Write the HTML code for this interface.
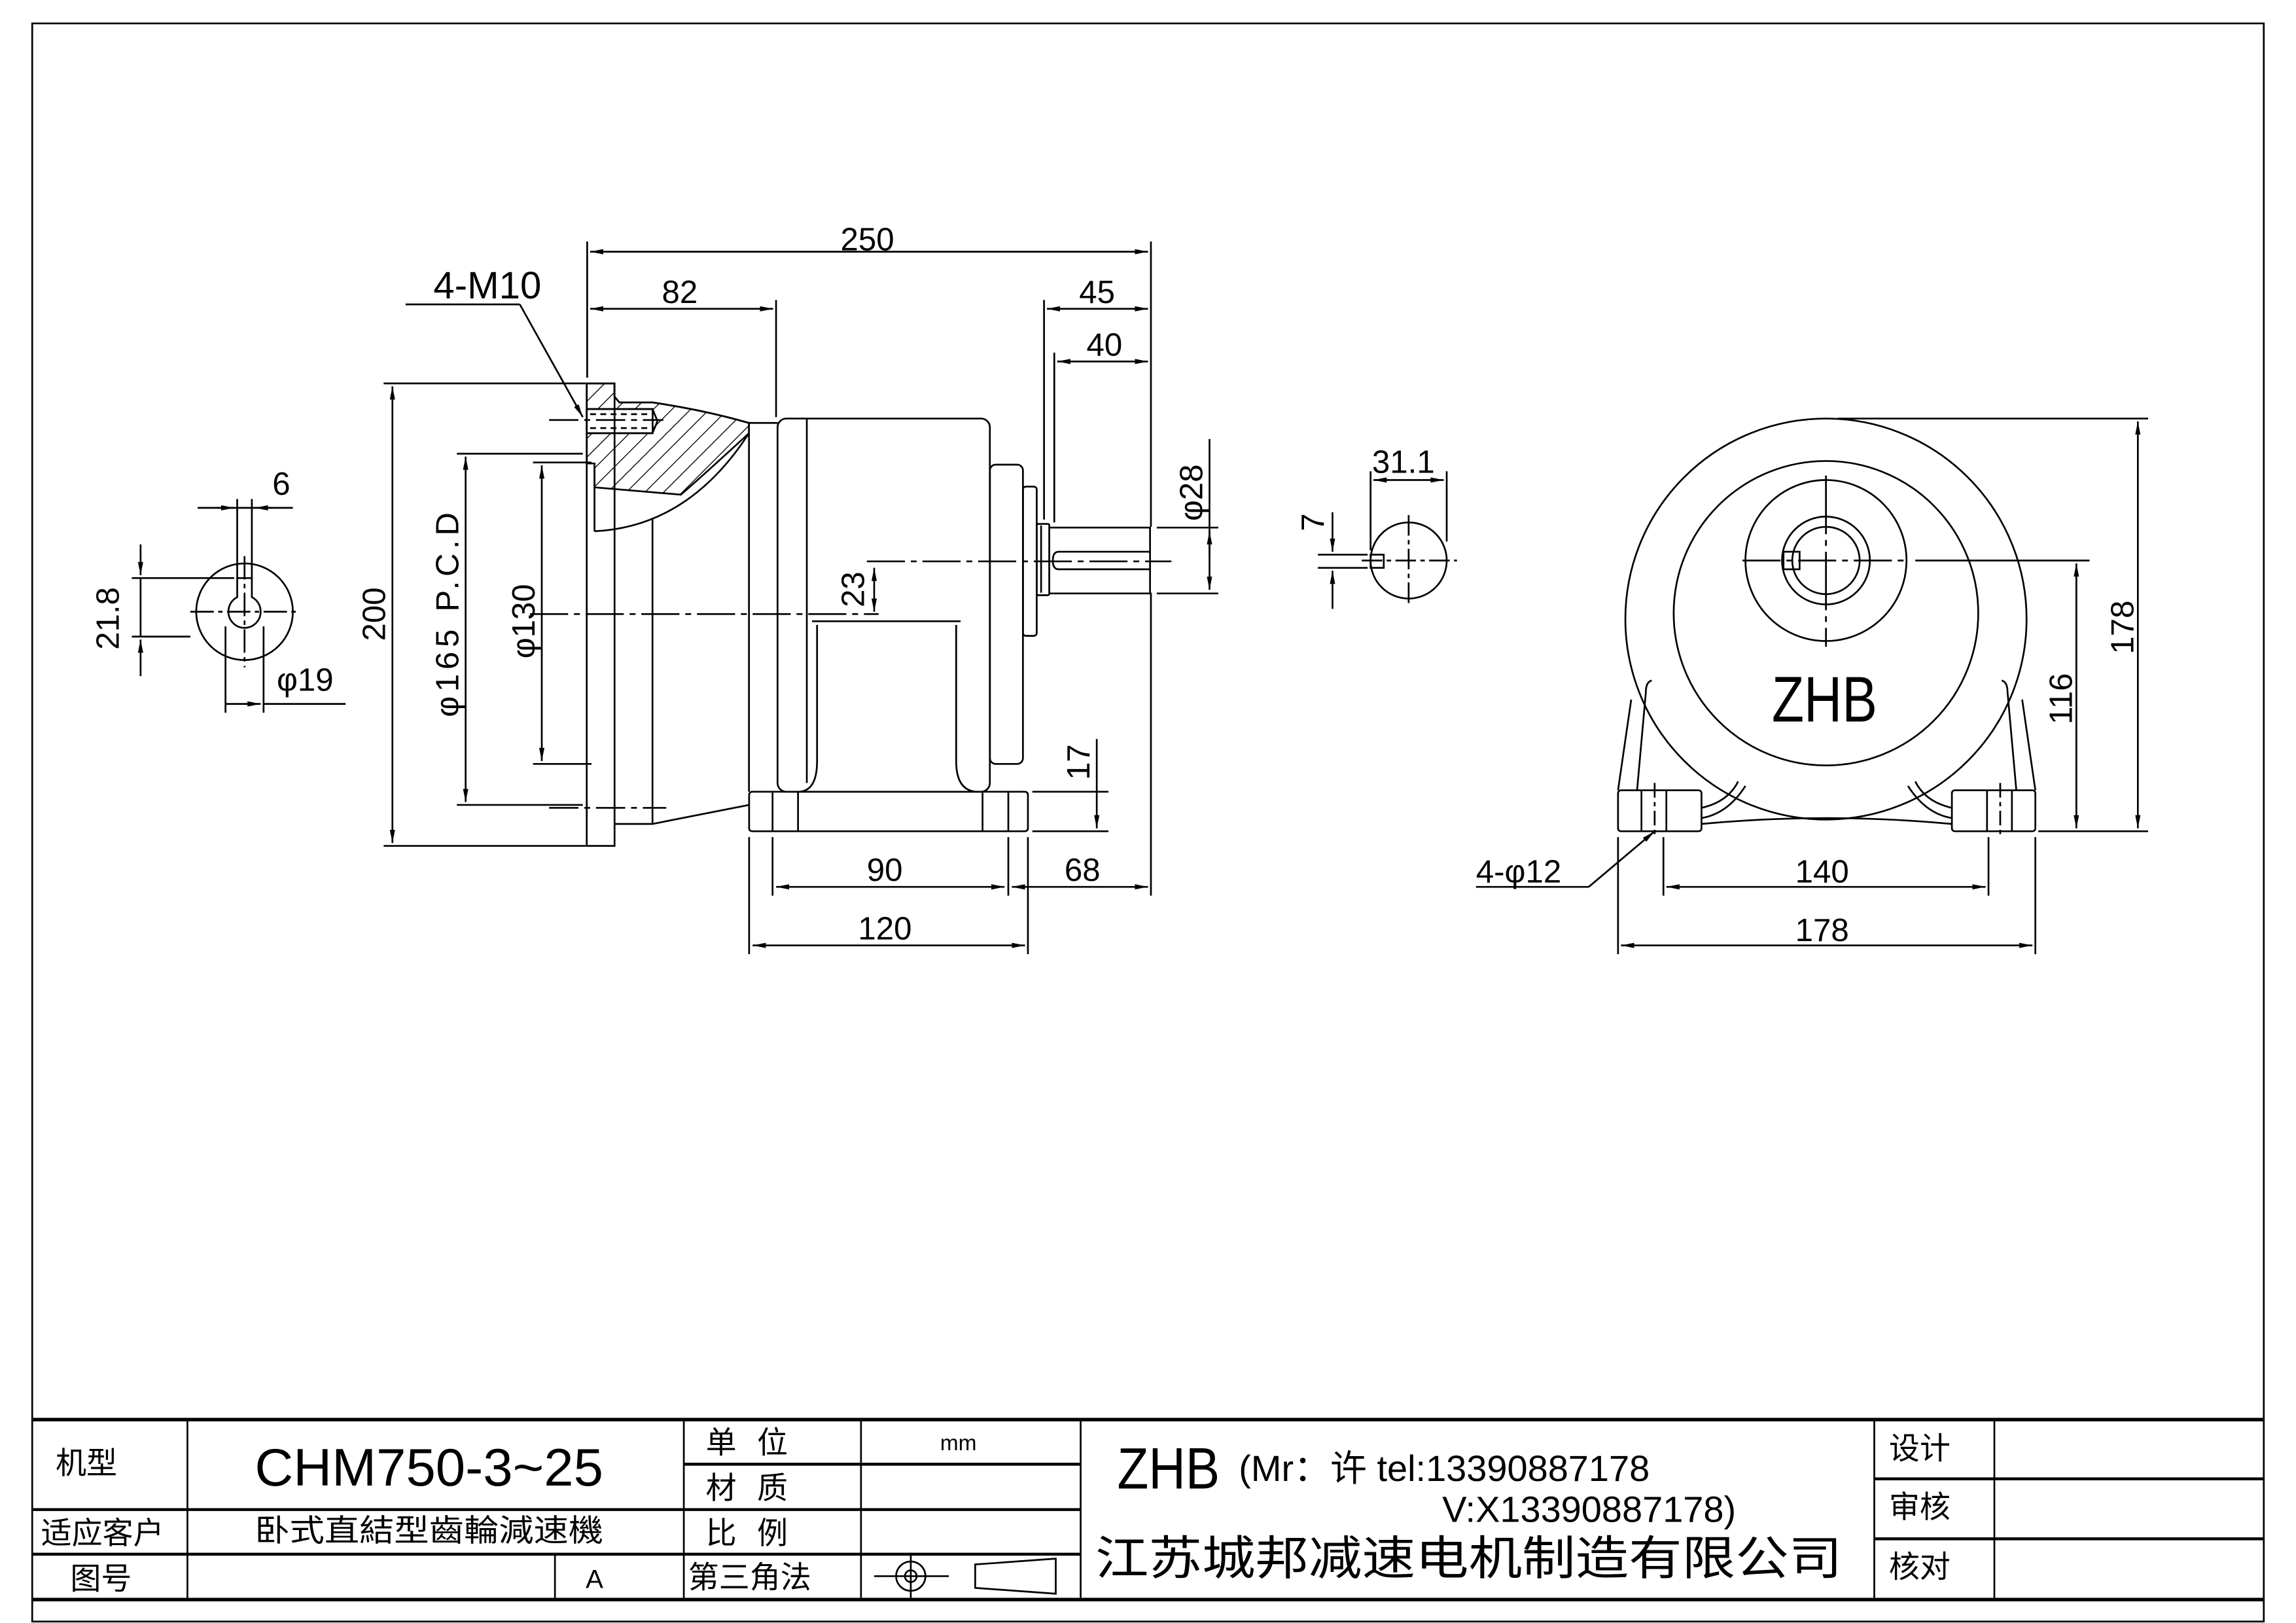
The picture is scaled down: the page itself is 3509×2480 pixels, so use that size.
<!DOCTYPE html>
<html><head><meta charset="utf-8"><style>
html,body{margin:0;padding:0;background:#fff}
svg{display:block}
text{font-family:"Liberation Sans","Noto Sans CJK SC",sans-serif;fill:#000}
</style></head><body>
<svg width="3509" height="2480" viewBox="0 0 1568 1109" preserveAspectRatio="none" xmlns="http://www.w3.org/2000/svg">
<defs>
<marker id="a" viewBox="0 0 10 10" refX="10" refY="5" markerWidth="9" markerHeight="9" orient="auto-start-reverse" markerUnits="userSpaceOnUse"><path d="M0,3 L10,5 L0,7 z" fill="#000"/></marker>
<pattern id="h" width="9" height="9" patternUnits="userSpaceOnUse" patternTransform="rotate(45)"><line x1="0" y1="0" x2="0" y2="9" stroke="#000" stroke-width="1.2"/></pattern>
</defs>
<g fill="none" stroke="#000" stroke-width="1.2">
<rect x="22" y="16" width="1524" height="1092" stroke-width="1.2"/>
<line x1="22" y1="970" x2="1546" y2="970" stroke-width="2.4"/>
<line x1="22" y1="1093" x2="1546" y2="1093" stroke-width="2.4"/>
<line x1="128" y1="970" x2="128" y2="1093"/>
<line x1="467" y1="970" x2="467" y2="1093"/>
<line x1="588" y1="970" x2="588" y2="1093"/>
<line x1="738" y1="970" x2="738" y2="1093"/>
<line x1="1280" y1="970" x2="1280" y2="1093"/>
<line x1="1362" y1="970" x2="1362" y2="1093"/>
<line x1="379" y1="1062" x2="379" y2="1093"/>
<line x1="22" y1="1031.5" x2="738" y2="1031.5" stroke-width="2"/>
<line x1="22" y1="1062" x2="738" y2="1062" stroke-width="2"/>
<line x1="467" y1="1000.5" x2="738" y2="1000.5" stroke-width="2"/>
<line x1="1280" y1="1010.5" x2="1546" y2="1010.5" stroke-width="2"/>
<line x1="1280" y1="1051.5" x2="1546" y2="1051.5" stroke-width="2"/>
<circle cx="622" cy="1077" r="10"/><circle cx="622" cy="1077" r="4"/>
<line x1="597" y1="1077" x2="648" y2="1077"/><line x1="622" y1="1061" x2="622" y2="1093"/>
<path d="M666,1077 L666,1069 L721,1065 L721,1089 L666,1085 Z"/>

<path d="M400.7,262 L419.6,262 L419.6,271 L423,275 L445.6,275 Q480,280 511.5,289 L511.5,296 Q480,325 465,338 L406,333 L406,316.7 L400.7,316.7 Z" fill="url(#h)"/>
<rect x="400.7" y="279.5" width="45" height="16.5" fill="#fff"/>
<line x1="400.7" y1="279.5" x2="445.6" y2="279.5"/><line x1="400.7" y1="296" x2="445.6" y2="296"/>
<line x1="403" y1="283" x2="443" y2="283" stroke-dasharray="4,3"/><line x1="403" y1="292.5" x2="443" y2="292.5" stroke-dasharray="4,3"/>
<path d="M445.6,279.5 L449,287.7 L445.6,296"/>
<rect x="400.7" y="262" width="19" height="316"/>
<line x1="406" y1="316.7" x2="406" y2="363"/>
<path d="M406,363 Q470,360 511.5,296"/>
<path d="M419.6,271 L423,275 L445.6,275 Q480,280 511.5,289 L531,289"/>
<line x1="445.6" y1="354" x2="445.6" y2="563"/>
<line x1="511.5" y1="289" x2="511.5" y2="541"/>
<path d="M419.6,563 L445.6,563 L511.5,550"/>
<rect x="531" y="286" width="145" height="255" rx="6"/>
<line x1="551" y1="286" x2="551" y2="535"/>
<path d="M554.6,424.5 L656,424.5 M558,427 L558,520 Q558,541 545,541 M653,427 L653,520 Q653,541 668,541"/>
<rect x="676" y="317.5" width="22.6" height="204.5" rx="4"/>
<rect x="698.6" y="332.5" width="9.4" height="102" rx="2"/>
<rect x="708" y="358" width="8.6" height="48.7" rx="1"/>
<line x1="711" y1="359" x2="711" y2="405"/>
<rect x="716.6" y="360.5" width="68.8" height="45"/>
<path d="M785,377 L723,377 Q719,377 719,383 Q719,389 723,389 L785,389"/>
<rect x="511.6" y="541" width="190.4" height="27" rx="2"/>
<line x1="527.6" y1="541" x2="527.6" y2="568"/><line x1="545" y1="541" x2="545" y2="568"/>
<line x1="671" y1="541" x2="671" y2="568"/><line x1="688.6" y1="541" x2="688.6" y2="568"/>
<line x1="362" y1="419.6" x2="600" y2="419.6" stroke-dasharray="26,4,4,4"/>
<line x1="592" y1="383.6" x2="800" y2="383.6" stroke-dasharray="26,4,4,4"/>
<line x1="375" y1="287" x2="453" y2="287" stroke-dasharray="20,4,4,4"/>
<line x1="375" y1="552" x2="455" y2="552" stroke-dasharray="20,4,4,4"/>
<line x1="262" y1="262" x2="400" y2="262"/><line x1="262" y1="578" x2="400" y2="578"/>
<line x1="268" y1="264" x2="268" y2="576" marker-start="url(#a)" marker-end="url(#a)"/>
<line x1="312" y1="310" x2="398" y2="310"/><line x1="312" y1="550" x2="398" y2="550"/>
<line x1="318" y1="312" x2="318" y2="548" marker-start="url(#a)" marker-end="url(#a)"/>
<line x1="364" y1="316" x2="404" y2="316"/><line x1="364" y1="522" x2="404" y2="522"/>
<line x1="370" y1="318" x2="370" y2="520" marker-start="url(#a)" marker-end="url(#a)"/>
<line x1="401" y1="165" x2="401" y2="258"/><line x1="786" y1="165" x2="786" y2="360"/>
<line x1="403" y1="172" x2="784" y2="172" marker-start="url(#a)" marker-end="url(#a)"/>
<line x1="530" y1="205" x2="530" y2="285"/>
<line x1="403" y1="211" x2="528" y2="211" marker-start="url(#a)" marker-end="url(#a)"/>
<line x1="713" y1="205" x2="713" y2="355"/>
<line x1="715" y1="211" x2="784" y2="211" marker-start="url(#a)" marker-end="url(#a)"/>
<line x1="720" y1="241" x2="720" y2="357"/>
<line x1="722" y1="247" x2="784" y2="247" marker-start="url(#a)" marker-end="url(#a)"/>
<line x1="277" y1="208" x2="355" y2="208"/>
<line x1="355" y1="208" x2="398" y2="285" marker-end="url(#a)"/>
<line x1="790" y1="360.5" x2="832" y2="360.5"/><line x1="790" y1="405.5" x2="832" y2="405.5"/>
<line x1="826" y1="300" x2="826" y2="403" marker-end="url(#a)"/>
<line x1="826" y1="380" x2="826" y2="363" marker-end="url(#a)"/>
<line x1="597" y1="388" x2="597" y2="418" marker-start="url(#a)" marker-end="url(#a)"/>
<line x1="705" y1="541" x2="757" y2="541"/><line x1="705" y1="568" x2="757" y2="568"/>
<line x1="749" y1="505" x2="749" y2="566" marker-end="url(#a)"/>
<line x1="511.6" y1="572" x2="511.6" y2="652"/><line x1="702" y1="572" x2="702" y2="652"/>
<line x1="527.6" y1="572" x2="527.6" y2="612"/><line x1="688.6" y1="572" x2="688.6" y2="612"/>
<line x1="786" y1="405" x2="786" y2="612"/>
<line x1="530" y1="606" x2="686" y2="606" marker-start="url(#a)" marker-end="url(#a)"/>
<line x1="691" y1="606" x2="784" y2="606" marker-start="url(#a)" marker-end="url(#a)"/>
<line x1="514" y1="646" x2="700" y2="646" marker-start="url(#a)" marker-end="url(#a)"/>

<circle cx="167" cy="418" r="33"/>
<path d="M156,418 A11,11 0 1 0 178,418 A11,11 0 0 0 172,408 L172,395 L162,395 L162,408 A11,11 0 0 0 156,418"/>
<line x1="130" y1="418" x2="205" y2="418" stroke-dasharray="16,3,3,3"/>
<line x1="167" y1="380" x2="167" y2="456" stroke-dasharray="16,3,3,3"/>
<line x1="135" y1="347" x2="200" y2="347"/>
<line x1="162" y1="341" x2="162" y2="395"/><line x1="172" y1="341" x2="172" y2="395"/>
<line x1="148" y1="347" x2="160" y2="347" marker-end="url(#a)"/>
<line x1="186" y1="347" x2="174" y2="347" marker-end="url(#a)"/>
<line x1="90" y1="395" x2="160" y2="395"/><line x1="90" y1="435" x2="130" y2="435"/>
<line x1="96" y1="372" x2="96" y2="393" marker-end="url(#a)"/>
<line x1="96" y1="462" x2="96" y2="437" marker-end="url(#a)"/>
<line x1="96" y1="395" x2="96" y2="435"/>
<line x1="154" y1="428" x2="154" y2="487"/><line x1="180" y1="428" x2="180" y2="487"/>
<line x1="154" y1="481" x2="178" y2="481" marker-end="url(#a)"/>
<line x1="180" y1="481" x2="236" y2="481"/>

<circle cx="962" cy="383" r="26"/>
<rect x="936" y="379" width="9" height="9"/>
<line x1="930" y1="383" x2="995" y2="383" stroke-dasharray="14,3,3,3"/>
<line x1="962" y1="352" x2="962" y2="414" stroke-dasharray="14,3,3,3"/>
<line x1="936" y1="322" x2="936" y2="376"/><line x1="988" y1="322" x2="988" y2="370"/>
<line x1="938" y1="328" x2="986" y2="328" marker-start="url(#a)" marker-end="url(#a)"/>
<line x1="900" y1="379" x2="934" y2="379"/><line x1="900" y1="388" x2="934" y2="388"/>
<line x1="910" y1="350" x2="910" y2="377" marker-end="url(#a)"/>
<line x1="910" y1="416" x2="910" y2="390" marker-end="url(#a)"/>

<circle cx="1247" cy="423" r="137"/>
<circle cx="1247" cy="419" r="104"/>
<circle cx="1247" cy="383" r="55"/>
<circle cx="1247" cy="383" r="30"/>
<circle cx="1247" cy="383" r="23"/>
<rect x="1218" y="377" width="11" height="12"/>
<line x1="1190" y1="383" x2="1302" y2="383" stroke-dasharray="26,4,4,4"/>
<line x1="1247" y1="325" x2="1247" y2="442" stroke-dasharray="40,4,4,4"/>
<line x1="1308" y1="383" x2="1427" y2="383"/>
<line x1="1255" y1="286" x2="1467" y2="286"/>
<line x1="1392" y1="568" x2="1467" y2="568"/>
<line x1="1460" y1="288" x2="1460" y2="566" marker-start="url(#a)" marker-end="url(#a)"/>
<line x1="1418" y1="385" x2="1418" y2="566" marker-start="url(#a)" marker-end="url(#a)"/>
<rect x="1105" y="540" width="57" height="28" rx="2"/>
<rect x="1333" y="540" width="57" height="28" rx="2"/>
<line x1="1121" y1="540" x2="1121" y2="568"/><line x1="1138" y1="540" x2="1138" y2="568"/>
<line x1="1357" y1="540" x2="1357" y2="568"/><line x1="1374" y1="540" x2="1374" y2="568"/>
<line x1="1130" y1="535" x2="1130" y2="573" stroke-dasharray="10,3,3,3"/>
<line x1="1366" y1="535" x2="1366" y2="573" stroke-dasharray="10,3,3,3"/>
<path d="M1105,540 L1114,478 M1118,540 L1124,473 Q1124,466 1128,465"/>
<path d="M1390,540 L1381,478 M1377,540 L1371,473 Q1371,466 1367,465"/>
<path d="M1162,563 Q1247,555 1333,563"/>
<path d="M1162,552 Q1180,548 1187,534 M1162,559 Q1180,556 1192,537"/>
<path d="M1333,552 Q1315,548 1308,534 M1333,559 Q1315,556 1303,537"/>
<line x1="1105" y1="572" x2="1105" y2="652"/><line x1="1390" y1="572" x2="1390" y2="652"/>
<line x1="1136" y1="572" x2="1136" y2="612"/><line x1="1358" y1="572" x2="1358" y2="612"/>
<line x1="1138" y1="606" x2="1356" y2="606" marker-start="url(#a)" marker-end="url(#a)"/>
<line x1="1107" y1="646" x2="1388" y2="646" marker-start="url(#a)" marker-end="url(#a)"/>
<line x1="1008" y1="606" x2="1085" y2="606"/>
<line x1="1085" y1="606" x2="1130" y2="568" marker-end="url(#a)"/>
</g>

<g font-size="22">
<text x="574" y="171">250</text>
<text x="452" y="207">82</text>
<text x="737" y="207">45</text>
<text x="742" y="243">40</text>
<text x="186" y="338">6</text>
<text x="592" y="602">90</text>
<text x="727" y="602">68</text>
<text x="586" y="642">120</text>
<text x="1226" y="603">140</text>
<text x="1226" y="643">178</text>
<text x="1008" y="603">4-φ12</text>
<text x="189" y="472">φ19</text>
<text x="937" y="323">31.1</text>
<text transform="translate(263,438) rotate(-90)">200</text>
<text transform="translate(313,490) rotate(-90)" letter-spacing="3">φ165 P.C.D</text>
<text transform="translate(365,450) rotate(-90)">φ130</text>
<text transform="translate(590,415) rotate(-90)">23</text>
<text transform="translate(821,356) rotate(-90)">φ28</text>
<text transform="translate(744,533) rotate(-90)">17</text>
<text transform="translate(81,444) rotate(-90)">21.8</text>
<text transform="translate(904,363) rotate(-90)">7</text>
<text transform="translate(1415,495) rotate(-90)">116</text>
<text transform="translate(1457,447) rotate(-90)">178</text>
</g>
<text x="296" y="204" font-size="26" font-family="Liberation Mono,monospace">4-M10</text>
<text x="1210" y="493" font-size="44" textLength="72" lengthAdjust="spacingAndGlyphs">ZHB</text>

<g font-family="Liberation Sans,Noto Sans CJK SC,sans-serif">
<text x="38" y="1007" font-size="21">机型</text>
<text x="174" y="1015" font-size="36" textLength="238" lengthAdjust="spacingAndGlyphs">CHM750-3~25</text>
<text x="482" y="993" font-size="21" letter-spacing="14">单位</text>
<text x="642" y="991" font-size="15">mm</text>
<text x="482" y="1024" font-size="21" letter-spacing="14">材质</text>
<text x="28" y="1055" font-size="21">适应客户</text>
<text x="174" y="1053" font-size="21" textLength="238" lengthAdjust="spacingAndGlyphs">卧式直結型齒輪減速機</text>
<text x="482" y="1055" font-size="21" letter-spacing="14">比例</text>
<text x="48" y="1086" font-size="21">图号</text>
<text x="400" y="1085" font-size="18">A</text>
<text x="470" y="1085" font-size="21">第三角法</text>
<text x="763" y="1017" font-size="40" textLength="70" lengthAdjust="spacingAndGlyphs">ZHB</text>
<text x="846" y="1012" font-size="25" font-family="Liberation Mono,Noto Sans CJK SC,monospace">(Mr：许 tel:13390887178</text>
<text x="985" y="1040" font-size="25" font-family="Liberation Mono,monospace">V:X13390887178)</text>
<text x="748" y="1076" font-size="32" font-family="Liberation Serif,Noto Serif CJK SC,serif" textLength="510" lengthAdjust="spacingAndGlyphs">江苏城邦减速电机制造有限公司</text>
<text x="1290" y="997" font-size="21">设计</text>
<text x="1290" y="1037" font-size="21">审核</text>
<text x="1290" y="1078" font-size="21">核对</text>
</g>
</svg>
</body></html>
